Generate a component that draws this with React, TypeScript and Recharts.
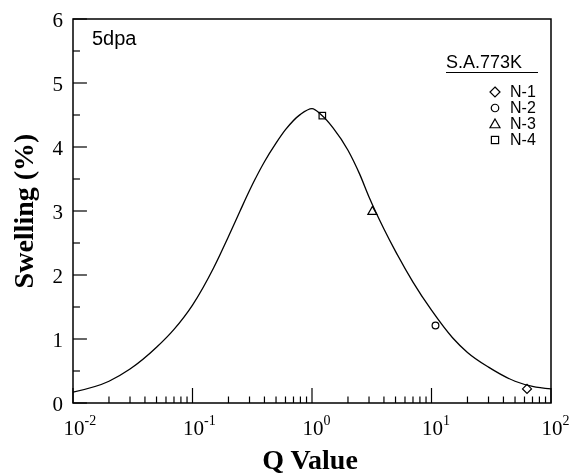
import React from 'react';
import { ComposedChart, Line, Scatter, XAxis, YAxis, ReferenceArea, ReferenceLine, Legend } from 'recharts';

// fitted curve
const curveQ = [0.01, 0.02, 0.03, 0.05, 0.07, 0.1, 0.15, 0.2, 0.25, 0.3, 0.4, 0.5, 0.6, 0.8, 1, 1.2, 1.5, 2, 2.5, 3, 4, 5, 7, 10, 15, 20, 30, 50, 70, 100];
const curveSwelling = [0.17, 0.34, 0.53, 0.87, 1.15, 1.53, 2.11, 2.6, 3.0, 3.32, 3.77, 4.06, 4.27, 4.51, 4.6, 4.5, 4.3, 3.95, 3.58, 3.22, 2.72, 2.37, 1.89, 1.45, 1.02, 0.79, 0.56, 0.34, 0.26, 0.22];

// measured specimens
const seriesNames = ['N-1', 'N-2', 'N-3', 'N-4'];
const pointQ = [63, 10.8, 3.2, 1.22];
const pointSwelling = [0.22, 1.21, 3.0, 4.49];

const xMajorTicks = [0.01, 0.1, 1, 10, 100];
const xTickExponents = ['-2', '-1', '0', '1', '2'];
const yTicks = [0, 0.5, 1, 1.5, 2, 2.5, 3, 3.5, 4, 4.5, 5, 5.5, 6];

const SERIF = '"Liberation Serif", "Times New Roman", serif';
const SANS = '"Liberation Sans", Arial, sans-serif';

const X_MIN = 0.01;
const Y_MIN = 0;
// inward tick lengths, in axis units (one decade ~120px, one swelling unit 64px)
const X_MAJOR_LEN = 15 / 64;
const X_MINOR_LEN = 6.5 / 64;
const Y_MAJOR_FACTOR = Math.pow(10, 14 / 120);
const Y_MINOR_FACTOR = Math.pow(10, 7 / 120);

const curveData = curveQ.map((q, i) => ({ q, s: curveSwelling[i] }));
const pointData = seriesNames.map((name, i) => [{ q: pointQ[i], s: pointSwelling[i], name }]);

const xTicks: number[] = [];
xMajorTicks.forEach((m, i) => {
	xTicks.push(m);
	if (i < xMajorTicks.length - 1) {
		for (let k = 2; k <= 9; k++) xTicks.push(+(m * k).toPrecision(3));
	}
});

function marker(kind: number, cx: number, cy: number, r: number) {
	const common = { fill: 'none', stroke: '#000', strokeWidth: 1.2 };
	if (kind === 0)
		return <polygon {...common} points={`${cx},${cy - r} ${cx + r},${cy} ${cx},${cy + r} ${cx - r},${cy}`} />;
	if (kind === 1) return <circle {...common} cx={cx} cy={cy} r={r * 0.75} />;
	if (kind === 2)
		return <polygon {...common} points={`${cx},${cy - r} ${cx + r},${cy + r * 0.75} ${cx - r},${cy + r * 0.75}`} />;
	return <rect {...common} x={cx - r * 0.72} y={cy - r * 0.72} width={r * 1.44} height={r * 1.44} />;
}

const XTick = (props: any) => {
	const { x, y, payload } = props;
	const idx = xMajorTicks.indexOf(payload.value);
	if (idx < 0) return <g />;
	return (
		<g>
			<text x={x + 1} y={y + 32} textAnchor="middle" fontFamily={SERIF} fontSize={21} fill="#000">
				10
			</text>
			<text x={x + 11.5} y={y + 22} textAnchor="start" fontFamily={SERIF} fontSize={14} fill="#000">
				{xTickExponents[idx]}
			</text>
		</g>
	);
};

const YTick = (props: any) => {
	const { x, y, payload } = props;
	if (!Number.isInteger(payload.value)) return <g />;
	return (
		<text x={x - 10} y={y + 8} textAnchor="end" fontFamily={SERIF} fontSize={21} fill="#000">
			{payload.value}
		</text>
	);
};

const LegendBox = () => (
	<div style={{ fontFamily: SANS, color: '#000', width: 92 }}>
		<div style={{ fontSize: 18, lineHeight: '18px', borderBottom: '1.5px solid #000', paddingBottom: 1 }}>S.A.773K</div>
		<div style={{ marginTop: 11 }}>
			{seriesNames.map((name, i) => (
				<div key={name} style={{ display: 'flex', alignItems: 'center', height: 16, fontSize: 16, lineHeight: '16px' }}>
					<svg width={14} height={14} style={{ marginLeft: 42 }}>
						{marker(i, 7, 7, 5)}
					</svg>
					<span style={{ marginLeft: 8 }}>{name}</span>
				</div>
			))}
		</div>
	</div>
);

export default function App() {
	return (
		<div style={{ position: 'fixed', left: 0, top: 0 }}>
			<ComposedChart width={572} height={474} margin={{ top: 19, right: 21, left: 0, bottom: 0 }}>
				<ReferenceArea
					x1={0.01}
					x2={100}
					y1={0}
					y2={6}
					fill="none"
					fillOpacity={0}
					stroke="#000"
					strokeWidth={1.5}
					label={{
						content: ({ viewBox }: any) => (
							<text x={viewBox.x + 19} y={viewBox.y + 26} fontFamily={SANS} fontSize={20} fill="#000">
								5dpa
							</text>
						),
					}}
				/>
				<XAxis
					dataKey="q"
					type="number"
					scale="log"
					domain={[0.01, 100]}
					allowDataOverflow
					ticks={xTicks}
					interval={0}
					tickSize={0}
					tickMargin={0}
					axisLine={false}
					tickLine={false}
					tick={XTick}
					height={71}
					label={{
						content: ({ viewBox }: any) => (
							<text
								x={viewBox.x + viewBox.width / 2 - 2}
								y={469}
								textAnchor="middle"
								fontFamily={SERIF}
								fontWeight="bold"
								fontSize={28}
								fill="#000"
							>
								Q Value
							</text>
						),
					}}
				/>
				<YAxis
					type="number"
					domain={[0, 6]}
					ticks={yTicks}
					interval={0}
					tickSize={0}
					tickMargin={0}
					axisLine={false}
					tickLine={false}
					tick={YTick}
					width={73}
					label={{
						content: ({ viewBox }: any) => (
							<text
								x={0}
								y={0}
								transform={`translate(33, ${viewBox.y + viewBox.height / 2}) rotate(-90)`}
								textAnchor="middle"
								fontFamily={SERIF}
								fontWeight="bold"
								fontSize={28}
								fill="#000"
							>
								Swelling (%)
							</text>
						),
					}}
				/>
				{xTicks.map((v) => (
					<ReferenceLine
						key={`xt-${v}`}
						segment={[
							{ x: v, y: Y_MIN },
							{ x: v, y: Y_MIN + (xMajorTicks.includes(v) ? X_MAJOR_LEN : X_MINOR_LEN) },
						]}
						stroke="#000"
						strokeWidth={1.2}
					/>
				))}
				{yTicks.map((v) => (
					<ReferenceLine
						key={`yt-${v}`}
						segment={[
							{ x: X_MIN, y: v },
							{ x: X_MIN * (Number.isInteger(v) ? Y_MAJOR_FACTOR : Y_MINOR_FACTOR), y: v },
						]}
						stroke="#000"
						strokeWidth={1.2}
					/>
				))}
				<Line
					data={curveData}
					dataKey="s"
					type="monotone"
					stroke="#000"
					strokeWidth={1.3}
					dot={false}
					activeDot={false}
					isAnimationActive={false}
					legendType="none"
				/>
				{pointData.map((d, i) => (
					<Scatter
						key={seriesNames[i]}
						name={seriesNames[i]}
						data={d}
						dataKey="s"
						isAnimationActive={false}
						shape={(p: any) => marker(i, p.cx, p.cy, 4.5)}
					/>
				))}
				<Legend
					layout="vertical"
					align="center"
					verticalAlign="middle"
					content={LegendBox}
					wrapperStyle={{ top: 53, left: 446, width: 92 }}
				/>
			</ComposedChart>
		</div>
	);
}
